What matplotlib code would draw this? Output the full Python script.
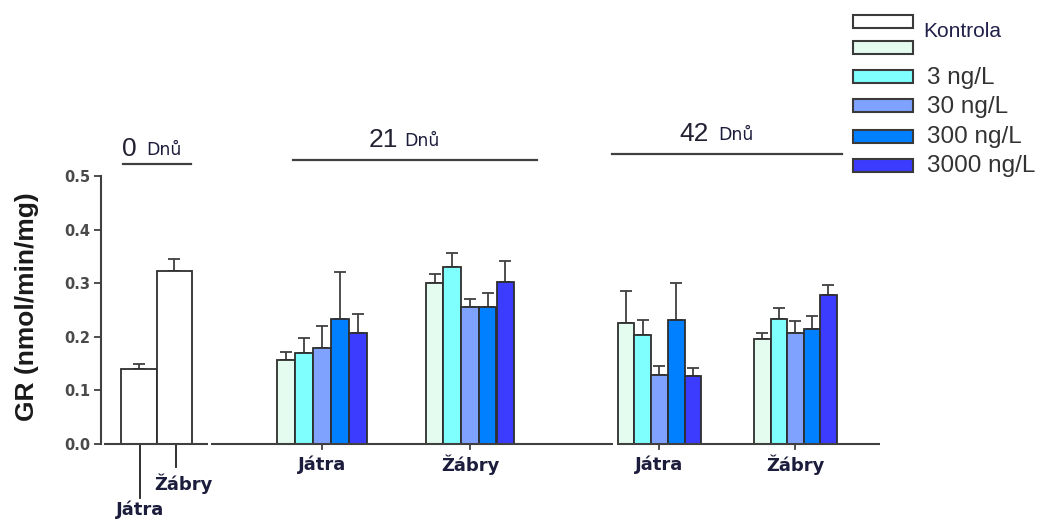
import matplotlib
matplotlib.use("Agg")
import matplotlib.pyplot as plt
from matplotlib.patches import Rectangle

# ---------------- data ----------------
series_labels = ["Kontrola", "3 ng/L", "30 ng/L", "300 ng/L", "3000 ng/L"]
series_colors = ["#e4fbef", "#80ffff", "#80a2ff", "#0080ff", "#3c3cff"]
control0_color = "#ffffff"
tissues = ["Játra", "Žábry"]
day_labels = ["0", "21", "42"]
day_word = "Dnů"

day0_means = [0.140, 0.322]
day0_errs = [0.010, 0.023]

d21_jatra = [0.157, 0.170, 0.180, 0.233, 0.208]
d21_jatra_err = [0.015, 0.027, 0.041, 0.087, 0.035]
d21_zabry = [0.300, 0.331, 0.255, 0.255, 0.303]
d21_zabry_err = [0.017, 0.026, 0.016, 0.027, 0.038]

d42_jatra = [0.225, 0.203, 0.129, 0.231, 0.127]
d42_jatra_err = [0.060, 0.028, 0.016, 0.070, 0.015]
d42_zabry = [0.195, 0.233, 0.208, 0.215, 0.278]
d42_zabry_err = [0.012, 0.020, 0.022, 0.023, 0.019]

y_ticks = [0.0, 0.1, 0.2, 0.3, 0.4, 0.5]
y_label = "GR (nmol/min/mg)"

# ---------------- layout ----------------
W, H = 1045, 522
fig = plt.figure(figsize=(W / 100, H / 100), dpi=100)


def fx(x):
    return x / W


def fy(y):
    return 1 - y / H


ax_left, ax_right, ax_top, ax_bot = 101, 880, 176, 444
ax = fig.add_axes([fx(ax_left), fy(ax_bot), fx(ax_right - ax_left), fy(ax_top) - fy(ax_bot)])
ax.set_xlim(ax_left, ax_right)
ax.set_ylim(0, 0.5)

EDGE = "#2e2e2e"
ERRC = "#404040"


def draw_group(left, width, means, errs, colors):
    xs = [left + width * (i + 0.5) for i in range(len(means))]
    ax.bar(xs, means, width=width, color=colors, edgecolor=EDGE, linewidth=1.3, zorder=3)
    ax.errorbar(xs, means, yerr=[[0] * len(errs), errs], fmt="none", ecolor=ERRC,
                elinewidth=1.3, capsize=4, capthick=1.3, zorder=2)
    return xs


# day 0
x0 = draw_group(121, 35.5, day0_means, day0_errs, [control0_color, control0_color])
groups = [
    (277.3, 18.0, d21_jatra, d21_jatra_err),
    (425.7, 17.7, d21_zabry, d21_zabry_err),
    (617.7, 16.7, d42_jatra, d42_jatra_err),
    (754.0, 16.5, d42_zabry, d42_zabry_err),
]
centers = []
for left, w, m, e in groups:
    xs = draw_group(left, w, m, e, series_colors)
    centers.append((xs[0] + xs[-1]) / 2)

# axes styling
for s in ["top", "right", "bottom"]:
    ax.spines[s].set_visible(False)
ax.spines["left"].set_color("#404040")
ax.spines["left"].set_linewidth(1.5)
ax.set_yticks(y_ticks)
ax.set_yticklabels([f"{v:.1f}" for v in y_ticks], fontsize=10.5, fontweight="bold",
                   color="#4a4a4a", family="DejaVu Sans")
ax.tick_params(axis="y", length=5, width=1.3, color="#404040", pad=3)
ax.set_xticks([])

# broken x-axis
for a, b in [(104, 208), (211, 613), (617, 880)]:
    ax.plot([a, b], [0, 0], color="#404040", lw=1.5, clip_on=False, zorder=4,
            solid_capstyle="butt")

# y label
fig.text(fx(27), fy(307), y_label, rotation=90, ha="center", va="center",
         fontsize=19, fontweight="bold", family="Liberation Sans", color="#1a1a1a")

# category labels / ticks
LABC = "#1c1c3c"
ypx = lambda p: (ax_bot - p) / (ax_bot - ax_top) * 0.5
for i, c in enumerate(centers):
    ax.plot([c, c], [0, ypx(449)], color="#404040", lw=1.3, clip_on=False)
    fig.text(fx(c), fy(465), tissues[i % 2], ha="center", va="center",
             fontsize=13, fontweight="bold", family="DejaVu Sans", color=LABC)

# day 0 long ticks
ax.plot([x0[0] + 1.5] * 2, [0, ypx(498)], color="#202020", lw=1.3, clip_on=False)
ax.plot([x0[1] + 1.5] * 2, [0, ypx(467)], color="#202020", lw=1.3, clip_on=False)
fig.text(fx(140), fy(510), tissues[0], ha="center", va="center",
         fontsize=13, fontweight="bold", family="DejaVu Sans", color=LABC)
fig.text(fx(183), fy(484), tissues[1], ha="center", va="center",
         fontsize=13, fontweight="bold", family="DejaVu Sans", color=LABC)

# day headers
headers = [
    (day_labels[0], 122.7, 190.7, 164, 129, 164, 149),
    (day_labels[1], 293, 537, 160, 383, 422, 140),
    (day_labels[2], 612, 842, 154, 694, 736, 134),
]
for lab, a, b, ly, nx, dx, ty in headers:
    fig.add_artist(plt.Line2D([fx(a), fx(b)], [fy(ly), fy(ly)], color="#404040", lw=1.6))
    fig.text(fx(nx), fy(ty), lab, ha="center", va="center", fontsize=19,
             family="Liberation Sans", color="#222233")
    fig.text(fx(dx), fy(ty + 1), day_word, ha="center", va="center", fontsize=12.5,
             family="DejaVu Sans", color="#1c1c3c")

# legend (manual)
leg_colors = [control0_color] + series_colors
leg_y = [21.7, 47.7, 76.7, 106, 136, 165]
for c, y in zip(leg_colors, leg_y):
    fig.add_artist(Rectangle((fx(853), fy(y + 6.5)), fx(60), fy(y - 6.5) - fy(y + 6.5),
                             facecolor=c, edgecolor="#3a3a3a", lw=1.5,
                             transform=fig.transFigure))
fig.text(fx(923), fy(31), series_labels[0], ha="left", va="center", fontsize=15,
         family="Liberation Sans", color="#20204a")
for lab, y in zip(series_labels[1:], leg_y[2:]):
    fig.text(fx(927), fy(y + 1), lab, ha="left", va="center", fontsize=17.5,
             family="Liberation Sans", color="#333333")

fig.savefig("out.png", dpi=100)
